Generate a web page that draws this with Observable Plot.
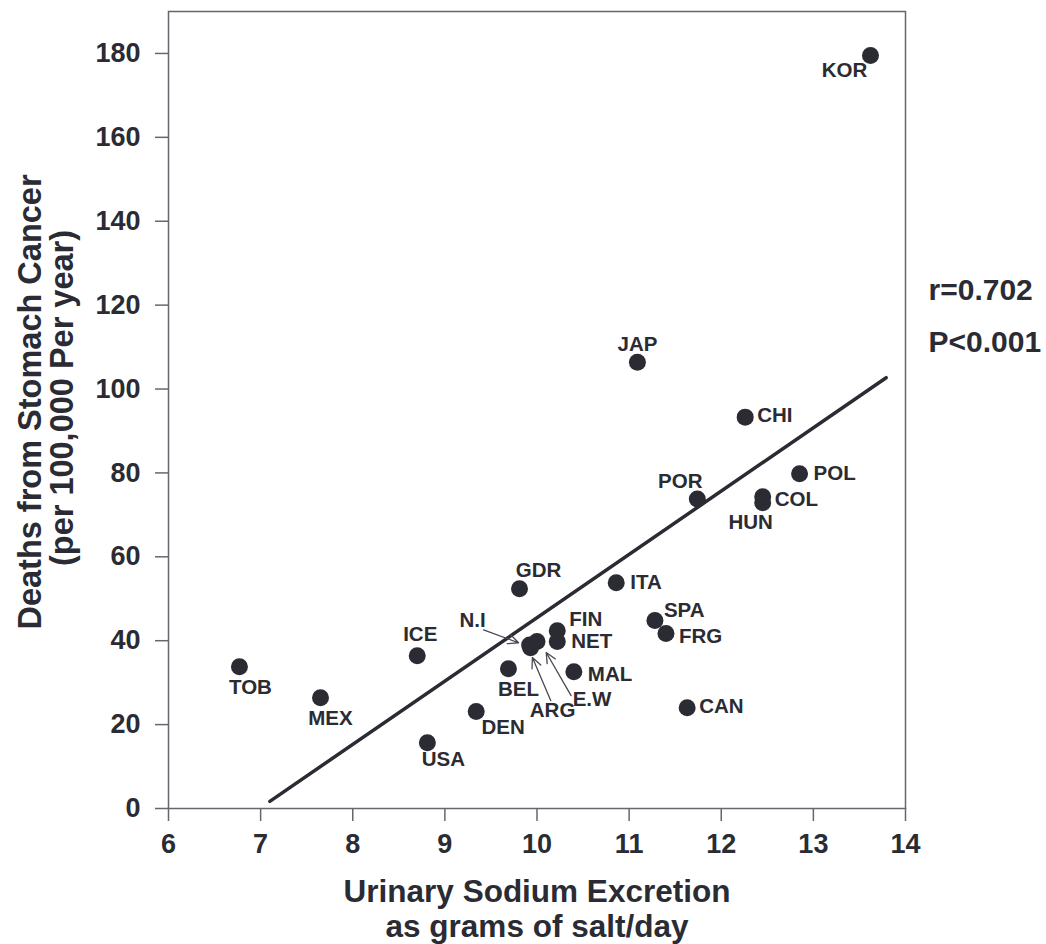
<!DOCTYPE html>
<html>
<head>
<meta charset="utf-8">
<script src="https://cdn.jsdelivr.net/npm/d3@7"></script>
<script src="https://cdn.jsdelivr.net/npm/@observablehq/plot@0.6"></script>
<style>
  html, body { margin: 0; padding: 0; background: #fff; }
  #chart { width: 1046px; height: 944px; }
</style>
</head>
<body>
<div id="chart"></div>
<script>
// ---- Data ----
const countries = ["KOR","JAP","CHI","POL","POR","COL","HUN","ITA","GDR","SPA","FRG","FIN","NET","N.I","ARG","E.W","BEL","MAL","ICE","TOB","MEX","DEN","USA","CAN"];
const saltPerDay = [13.62,11.09,12.26,12.85,11.74,12.45,12.45,10.86,9.81,11.28,11.40,10.22,10.22,9.92,9.93,10.00,9.69,10.40,8.70,6.77,7.65,9.34,8.81,11.63];
const stomachDeaths = [179.5,106.4,93.3,79.8,73.8,74.3,72.9,53.8,52.4,44.8,41.7,42.4,39.8,39.0,38.3,39.8,33.3,32.6,36.4,33.8,26.4,23.1,15.7,24.0];

// regression line endpoints
const fitSalt = [7.10, 13.79];
const fitDeaths = [1.7, 102.7];

// leader arrows for crowded labels
const arrowNames = ["N.I","ARG","E.W"];
const arrowSalt1 = [9.42, 10.15, 10.37];
const arrowDeaths1 = [42.6, 25.7, 26.9];
const arrowSalt2 = [9.80, 9.95, 10.10];
const arrowDeaths2 = [39.5, 36.0, 37.2];

const xTicks = [6,7,8,9,10,11,12,13,14];
const yTicks = [0,20,40,60,80,100,120,140,160,180];
const xTitle = ["Urinary Sodium Excretion", "as grams of salt/day"];
const yTitle = ["Deaths from Stomach Cancer", "(per 100,000 Per year)"];
const stats = ["r=0.702", "P<0.001"];

// ---- Label placement (style only) : [textAnchor, dx, dy] ----
const labelPlacement = {
  "KOR": ["middle", -26, 15], "JAP": ["middle", 0, -18], "CHI": ["start", 12, -2],
  "POL": ["start", 14, 0], "POR": ["middle", -17, -17], "COL": ["start", 12, 3],
  "HUN": ["middle", -12, 20], "ITA": ["start", 14, 0], "GDR": ["middle", 19, -18],
  "SPA": ["start", 9, -10], "FRG": ["start", 13, 3], "FIN": ["start", 12, -11],
  "NET": ["start", 14, 0], "N.I": ["middle", -57, -24], "ARG": ["middle", 22, 63],
  "E.W": ["middle", 55, 58], "BEL": ["middle", 10, 21], "MAL": ["start", 14, 3],
  "ICE": ["middle", 3, -21], "TOB": ["middle", 11, 21], "MEX": ["middle", 10, 21],
  "DEN": ["middle", 27, 16], "USA": ["middle", 16, 17], "CAN": ["start", 12, -1]
};

const ink = "#2b2b33";
const axisGrey = "#66666e";

const points = countries.map((c, i) => ({country: c, salt: saltPerDay[i], deaths: stomachDeaths[i]}));
const fit = fitSalt.map((s, i) => ({salt: s, deaths: fitDeaths[i]}));
const arrows = arrowNames.map((n, i) => ({name: n, x1: arrowSalt1[i], y1: arrowDeaths1[i], x2: arrowSalt2[i], y2: arrowDeaths2[i]}));

const labelMarks = points.map(p => {
  const [anchor, dx, dy] = labelPlacement[p.country];
  return Plot.text([p], {x: "salt", y: "deaths", text: "country", textAnchor: anchor, dx, dy,
    lineAnchor: "middle", fontSize: 20.5, fontWeight: "bold", fill: ink});
});

const chart = Plot.plot({
  width: 1046,
  height: 944,
  marginLeft: 168,
  marginRight: 141,
  marginTop: 11,
  marginBottom: 136,
  style: {fontFamily: "'Liberation Sans', Arial, Helvetica, sans-serif", fontWeight: "bold", fontSize: "28px", color: ink, background: "#fff"},
  x: {domain: [6, 14]},
  y: {domain: [0, 190]},
  marks: [
    Plot.axisX({ticks: xTicks, tickSize: 13, tickPadding: 12, stroke: axisGrey, strokeWidth: 1.5, fill: ink, label: null, fontSize: 27, fontWeight: "bold"}),
    Plot.axisY({ticks: yTicks, tickSize: 13, tickPadding: 15, stroke: axisGrey, strokeWidth: 1.5, fill: ink, label: null, fontSize: 27, fontWeight: "bold"}),
    Plot.frame({stroke: axisGrey, strokeWidth: 1.5}),
    Plot.line(fit, {x: "salt", y: "deaths", stroke: ink, strokeWidth: 3.5, strokeLinecap: "round"}),
    Plot.arrow(arrows, {x1: "x1", y1: "y1", x2: "x2", y2: "y2", stroke: "#4a4a52", strokeWidth: 1.3, headLength: 13, headAngle: 50}),
    Plot.dot(points, {x: "salt", y: "deaths", r: 8.5, fill: ink}),
    ...labelMarks,
    Plot.text([yTitle[0]], {frameAnchor: "left", text: d => d, rotate: -90, textAnchor: "middle", lineAnchor: "middle", dx: -138, dy: -8, fontSize: 32.5, fontWeight: "bold", fill: ink}),
    Plot.text([yTitle[1]], {frameAnchor: "left", text: d => d, rotate: -90, textAnchor: "middle", lineAnchor: "middle", dx: -106, dy: -12, fontSize: 32.5, fontWeight: "bold", fill: ink}),
    Plot.text([xTitle[0]], {frameAnchor: "bottom", text: d => d, textAnchor: "middle", lineAnchor: "middle", dy: 83, fontSize: 31.5, fontWeight: "bold", fill: ink}),
    Plot.text([xTitle[1]], {frameAnchor: "bottom", text: d => d, textAnchor: "middle", lineAnchor: "middle", dy: 118, fontSize: 31.5, fontWeight: "bold", fill: ink}),
    Plot.text([stats[0]], {frameAnchor: "top-right", text: d => d, textAnchor: "start", lineAnchor: "middle", dx: 23, dy: 279, fontSize: 30, fontWeight: "bold", fill: ink}),
    Plot.text([stats[1]], {frameAnchor: "top-right", text: d => d, textAnchor: "start", lineAnchor: "middle", dx: 23, dy: 331, fontSize: 30, fontWeight: "bold", fill: ink})
  ]
});

document.getElementById("chart").appendChild(chart);
</script>
</body>
</html>
